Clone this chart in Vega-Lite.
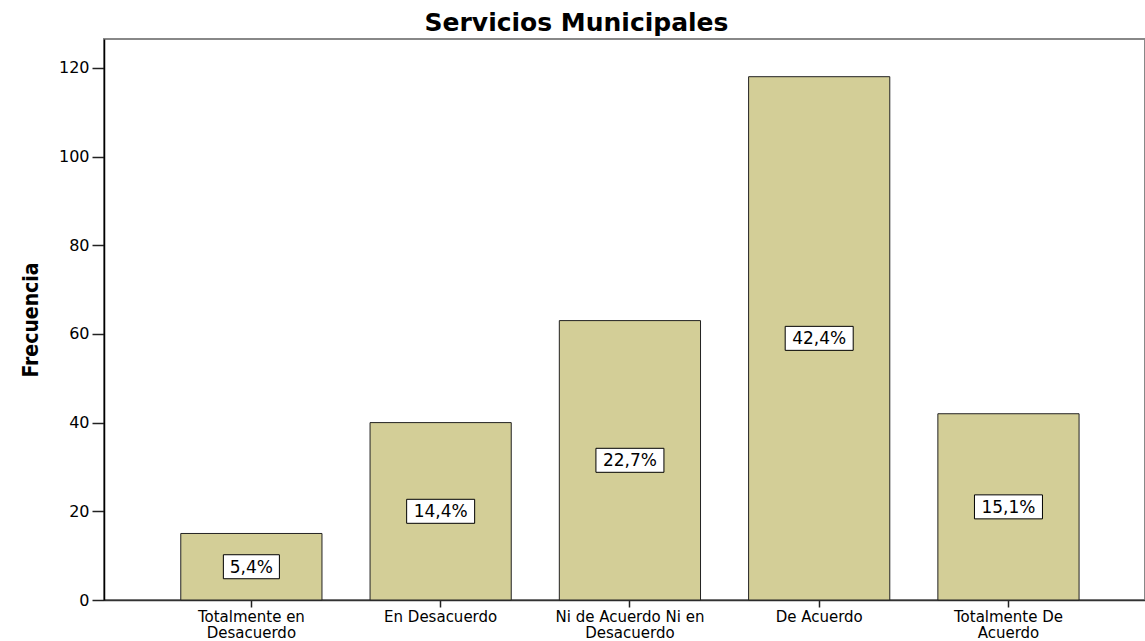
{
  "$schema": "https://vega.github.io/schema/vega-lite/v6.json",
  "width": 1041,
  "height": 561,
  "autosize": {"type": "none"},
  "padding": {"left": 104, "top": 39, "right": 0, "bottom": 41},
  "background": "white",
  "title": {
    "text": "Servicios Municipales",
    "font": "DejaVu Sans",
    "fontWeight": "bold",
    "fontSize": 25,
    "color": "black",
    "dx": -48,
    "offset": 3
  },
  "data": {
    "values": [
      {"cat": "Totalmente en Desacuerdo", "freq": 15, "pct": "5,4%"},
      {"cat": "En Desacuerdo", "freq": 40, "pct": "14,4%"},
      {"cat": "Ni de Acuerdo Ni en Desacuerdo", "freq": 63, "pct": "22,7%"},
      {"cat": "De Acuerdo", "freq": 118, "pct": "42,4%"},
      {"cat": "Totalmente De Acuerdo", "freq": 42, "pct": "15,1%"}
    ]
  },
  "transform": [{"calculate": "datum.freq / 2", "as": "mid"}],
  "encoding": {
    "x": {
      "field": "cat",
      "type": "nominal",
      "sort": null,
      "scale": {"paddingInner": 0.254, "paddingOuter": 0.377, "align": 0.538, "round": false},
      "axis": {
        "title": null,
        "labelAngle": 0,
        "labelFont": "DejaVu Sans",
        "labelFontSize": 15,
        "labelColor": "black",
        "labelLineHeight": 16,
        "labelPadding": 2,
        "labelBaseline": "top",
        "labelExpr": "datum.value == 'Totalmente en Desacuerdo' ? ['Totalmente en', 'Desacuerdo'] : datum.value == 'Ni de Acuerdo Ni en Desacuerdo' ? ['Ni de Acuerdo Ni en', 'Desacuerdo'] : datum.value == 'Totalmente De Acuerdo' ? ['Totalmente De', 'Acuerdo'] : datum.value",
        "tickSize": 7,
        "tickColor": "#222",
        "tickWidth": 1.5,
        "domainColor": "#333",
        "domainWidth": 1.5,
        "labelLimit": 300
      }
    }
  },
  "layer": [
    {
      "mark": {"type": "bar", "fill": "#d3ce97", "stroke": "#222", "strokeWidth": 1, "opacity": 1},
      "encoding": {
        "y": {
          "field": "freq",
          "type": "quantitative",
          "scale": {"domain": [0, 126.5], "nice": false, "zero": true},
          "axis": {
            "title": "Frecuencia",
            "titleFont": "Liberation Sans Narrow, DejaVu Sans Condensed, sans-serif",
            "titleFontSize": 21,
            "titleFontWeight": "bold",
            "titleColor": "black",
            "titlePadding": 17,
            "values": [0, 20, 40, 60, 80, 100, 120],
            "labelFont": "DejaVu Sans",
            "labelFontSize": 16,
            "labelColor": "black",
            "labelPadding": 3,
            "tickSize": 12,
            "tickColor": "#222",
            "tickWidth": 1.5,
            "domainColor": "black",
            "domainWidth": 1.5,
            "grid": false
          }
        }
      }
    },
    {
      "mark": {"type": "point", "filled": true, "fill": "white", "stroke": "black", "strokeWidth": 1, "opacity": 1, "size": 4624},
      "encoding": {
        "y": {"field": "mid", "type": "quantitative"},
        "shape": {
          "field": "pct",
          "type": "nominal",
          "legend": null,
          "scale": {
            "domain": ["5,4%", "14,4%", "22,7%", "42,4%", "15,1%"],
            "range": [
              "M-0.824,-0.353H0.824V0.353H-0.824Z",
              "M-1,-0.353H1V0.353H-1Z",
              "M-1,-0.353H1V0.353H-1Z",
              "M-1,-0.353H1V0.353H-1Z",
              "M-1,-0.353H1V0.353H-1Z"
            ]
          }
        }
      }
    },
    {
      "mark": {"type": "text", "font": "DejaVu Sans", "fontSize": 17, "color": "black", "align": "center", "baseline": "middle", "dy": 1},
      "encoding": {
        "y": {"field": "mid", "type": "quantitative"},
        "text": {"field": "pct", "type": "nominal"}
      }
    }
  ],
  "config": {
    "view": {"stroke": "#888", "strokeWidth": 2}
  }
}
